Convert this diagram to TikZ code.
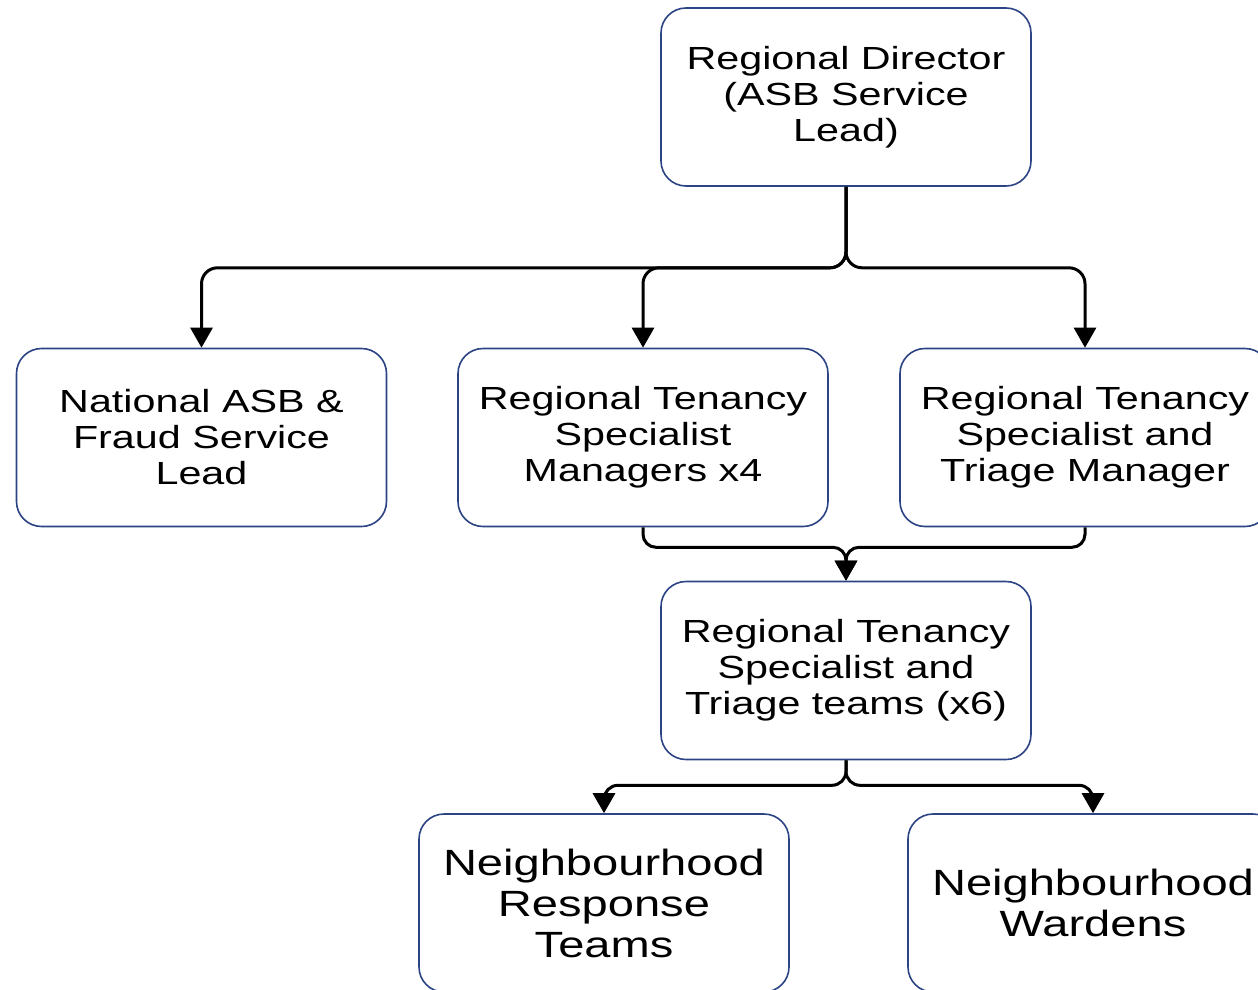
\documentclass[tikz,border=0pt]{standalone}
\usepackage{fontspec}
\setmainfont{Liberation Sans}[FakeStretch=1.29]
\usetikzlibrary{arrows.meta}
\definecolor{boxblue}{RGB}{44,68,132}
\begin{document}
\begin{tikzpicture}[x=1pt,y=-1pt,
  box/.style={draw=boxblue, line width=1.6pt, rounded corners=25pt, fill=white,
    minimum width=370pt, minimum height=178pt, align=center, inner sep=0pt,
    font=\fontsize{32}{36}\selectfont},
  bigbox/.style={box, font=\fontsize{36.5}{41}\selectfont},
  conn/.style={draw=black, line width=3pt, rounded corners=16pt,
    -{Triangle[width=22pt,length=20pt]}}]
\useasboundingbox (0,0) rectangle (1258,990);
\clip (0,0) rectangle (1258,990);
\node[box] (top) at (846,97) {Regional Director\\(ASB Service\\Lead)};
\node[box] (b1) at (201.5,437.5) {National ASB \&\\Fraud Service\\Lead};
\node[box] (b2) at (643,437.5) {Regional Tenancy\\Specialist\\Managers x4};
\node[box] (b3) at (1085,437.5) {Regional Tenancy\\Specialist and\\Triage Manager};
\node[box] (b4) at (846,670.5) {Regional Tenancy\\Specialist and\\Triage teams (x6)};
\node[bigbox] (b5) at (604,903) {Neighbourhood\\Response\\Teams};
\node[bigbox] (b6) at (1093,903) {Neighbourhood\\Wardens};
\draw[conn] (top.south) -- ++(0,81) -| (b1.north);
\draw[conn] (top.south) -- ++(0,81) -| (b2.north);
\draw[conn] (top.south) -- ++(0,81) -| (b3.north);
\draw[conn, rounded corners=13pt] (b2.south) -- ++(0,20) -| (b4.north);
\draw[conn, rounded corners=13pt] (b3.south) -- ++(0,20) -| (b4.north);
\draw[conn, rounded corners=14pt] (b4.south) -- ++(0,25) -| (b5.north);
\draw[conn, rounded corners=14pt] (b4.south) -- ++(0,25) -| (b6.north);
\end{tikzpicture}
\end{document}
